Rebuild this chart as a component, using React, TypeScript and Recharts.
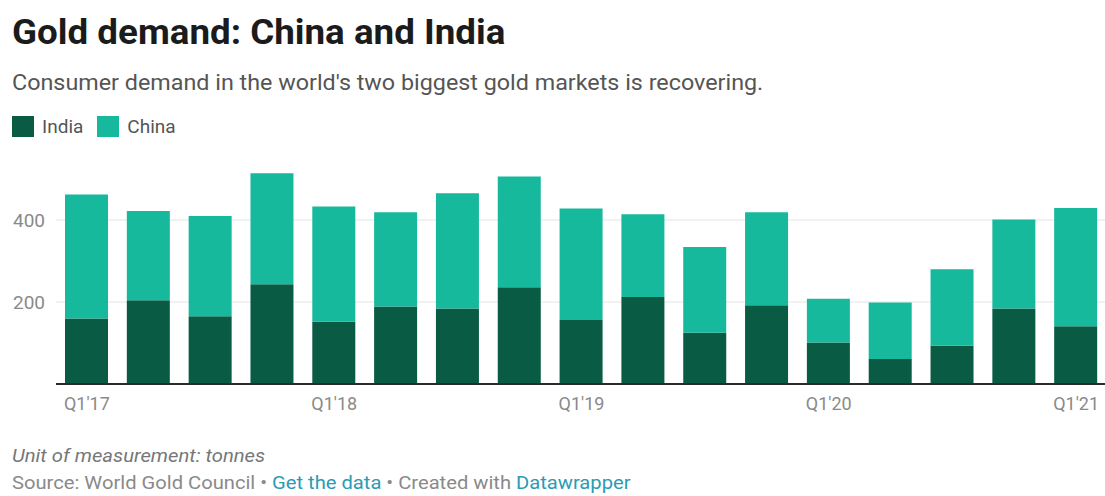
import { BarChart, Bar, XAxis, YAxis, CartesianGrid } from "recharts";

const quarters = [
  "Q1'17", "Q2'17", "Q3'17", "Q4'17",
  "Q1'18", "Q2'18", "Q3'18", "Q4'18",
  "Q1'19", "Q2'19", "Q3'19", "Q4'19",
  "Q1'20", "Q2'20", "Q3'20", "Q4'20",
  "Q1'21",
];
const india = [160, 204, 165, 243, 152, 189, 184, 236, 156, 212, 125, 192, 101, 61, 93, 184, 141];
const china = [302, 218, 245, 271, 281, 230, 281, 270, 272, 202, 209, 227, 107, 138, 187, 217, 288];
const yTicks = [200, 400];

const INDIA = "#0a5b44";
const CHINA = "#17b99c";
const LINK = "#2a9bb5";

const data = quarters.map((q, i) => ({ q, india: india[i], china: china[i] }));

// the original screenshot is a bit stretched sideways, hence the scaleX
const text = (top: number, size: number, sx: number, extra: React.CSSProperties = {}) => ({
  position: "absolute" as const,
  left: 12,
  top,
  fontSize: size,
  lineHeight: 1,
  whiteSpace: "nowrap" as const,
  transform: `scaleX(${sx})`,
  transformOrigin: "0 0",
  ...extra,
});

export default function App() {
  return (
    <div
      style={{
        position: "absolute",
        left: 0,
        top: 0,
        width: 1105,
        height: 496,
        overflow: "hidden",
        background: "#fff",
        fontFamily: "Roboto, sans-serif",
      }}
    >
      <div style={text(15, 35, 1.05, { fontWeight: 700, color: "#1b1b1b" })}>
        Gold demand: China and India
      </div>
      <div style={text(72, 22, 1.06, { color: "#555" })}>
        Consumer demand in the world's two biggest gold markets is recovering.
      </div>
      <div style={text(116, 19, 1, { color: "#555", display: "flex", alignItems: "center" })}>
        <span style={{ width: 22, height: 21, background: INDIA, marginRight: 8 }} />
        <span style={{ marginRight: 14 }}>India</span>
        <span style={{ width: 22, height: 21, background: CHINA, marginRight: 8 }} />
        <span>China</span>
      </div>

      <div style={{ position: "absolute", left: 0, top: 130 }}>
        <BarChart
          width={1107}
          height={284}
          data={data}
          margin={{ top: 8, right: 0, bottom: 0, left: 0 }}
        >
          <CartesianGrid vertical={false} horizontalValues={yTicks} stroke="#e4e4e4" />
          <YAxis
            type="number"
            domain={[0, 600]}
            ticks={yTicks}
            width={56}
            axisLine={false}
            tickLine={false}
            tickSize={0}
            tickMargin={11}
            tick={{ fill: "#8a8a8a", fontSize: 19 }}
          />
          <XAxis
            dataKey="q"
            interval={3}
            height={30}
            axisLine={{ stroke: "#2b2b2b", strokeWidth: 2 }}
            tickLine={false}
            tickSize={0}
            tickMargin={13}
            tick={{ fill: "#8a8a8a", fontSize: 18 }}
          />
          <Bar dataKey="india" stackId="a" fill={INDIA} barSize={43} isAnimationActive={false} />
          <Bar dataKey="china" stackId="a" fill={CHINA} barSize={43} isAnimationActive={false} />
        </BarChart>
      </div>

      <div style={text(446, 19, 1.065, { color: "#777", fontStyle: "italic" })}>
        Unit of measurement: tonnes
      </div>
      <div style={text(474, 18, 1.12, { color: "#8a8a8a" })}>
        Source: World Gold Council • <span style={{ color: LINK }}>Get the data</span> • Created
        with <span style={{ color: LINK }}>Datawrapper</span>
      </div>
    </div>
  );
}
